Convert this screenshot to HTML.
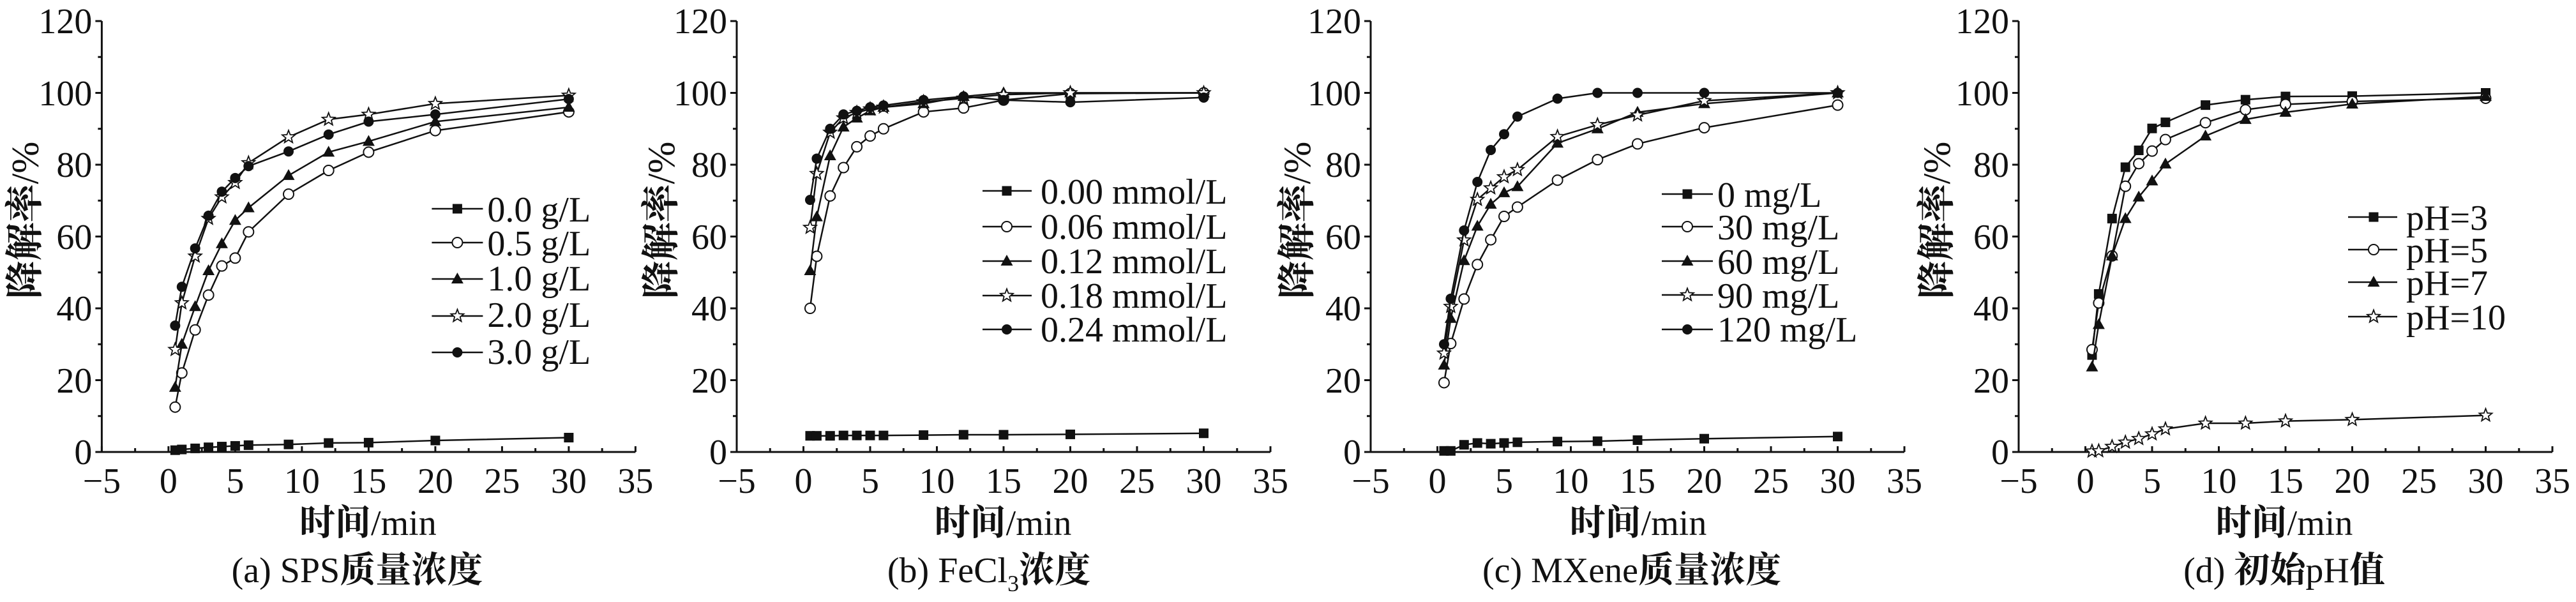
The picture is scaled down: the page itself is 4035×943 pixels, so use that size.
<!DOCTYPE html>
<html><head><meta charset="utf-8"><style>
html,body{margin:0;padding:0;background:#fff;}
svg{display:block;}
text{font-family:"Liberation Serif","Noto Serif CJK SC","Noto Sans CJK SC",serif;fill:#111;}
.cj{font-weight:bold;}
</style></head><body>
<svg id="s" width="4035" height="943" viewBox="0 0 4035 943" xmlns="http://www.w3.org/2000/svg">
<defs>
<g id="axes" stroke="#111" stroke-width="3" fill="none">
<path d="M0,33 V708 H836"/>
</g>
</defs>

<g id="pa" transform="translate(159.4,0)">
<use href="#axes"/>
<g font-size="56" text-anchor="end">
<text x="-15" y="727">0</text><text x="-15" y="615">20</text><text x="-15" y="502">40</text><text x="-15" y="390">60</text><text x="-15" y="277">80</text><text x="-15" y="165">100</text><text x="-15" y="52">120</text></g>
<g font-size="56" text-anchor="middle">
<text x="0" y="772">−5</text><text x="104.5" y="772">0</text><text x="209" y="772">5</text><text x="313.5" y="772">10</text><text x="418" y="772">15</text><text x="522.5" y="772">20</text><text x="627" y="772">25</text><text x="731.5" y="772">30</text><text x="836" y="772">35</text>
<text x="417" y="838"><tspan class="cj">时间</tspan>/min</text>
<text x="400" y="912">(a) SPS<tspan class="cj">质量浓度</tspan></text>
<text transform="translate(-100,345) rotate(-90)" font-size="60"><tspan class="cj">降解率</tspan>/%</text>
</g>
<g font-size="56"><text x="604" y="347">0.0 g/L</text><text x="604" y="400">0.5 g/L</text><text x="604" y="455">1.0 g/L</text><text x="604" y="512">2.0 g/L</text><text x="604" y="570">3.0 g/L</text></g>
</g>

<g id="pb" transform="translate(1154,0)">
<use href="#axes"/>
<g font-size="56" text-anchor="end">
<text x="-15" y="727">0</text><text x="-15" y="615">20</text><text x="-15" y="502">40</text><text x="-15" y="390">60</text><text x="-15" y="277">80</text><text x="-15" y="165">100</text><text x="-15" y="52">120</text></g>
<g font-size="56" text-anchor="middle">
<text x="0" y="772">−5</text><text x="104.5" y="772">0</text><text x="209" y="772">5</text><text x="313.5" y="772">10</text><text x="418" y="772">15</text><text x="522.5" y="772">20</text><text x="627" y="772">25</text><text x="731.5" y="772">30</text><text x="836" y="772">35</text>
<text x="417" y="838"><tspan class="cj">时间</tspan>/min</text>
<text x="395" y="912">(b) FeCl<tspan font-size="36" dy="14">3</tspan><tspan dy="-14" class="cj">浓度</tspan></text>
<text transform="translate(-98,345) rotate(-90)" font-size="60"><tspan class="cj">降解率</tspan>/%</text>
</g>
<g font-size="56"><text x="476" y="319">0.00 mmol/L</text><text x="476" y="374">0.06 mmol/L</text><text x="476" y="428">0.12 mmol/L</text><text x="476" y="482">0.18 mmol/L</text><text x="476" y="535">0.24 mmol/L</text></g>
</g>

<g id="pc" transform="translate(2147,0)">
<use href="#axes"/>
<g font-size="56" text-anchor="end">
<text x="-15" y="727">0</text><text x="-15" y="615">20</text><text x="-15" y="502">40</text><text x="-15" y="390">60</text><text x="-15" y="277">80</text><text x="-15" y="165">100</text><text x="-15" y="52">120</text></g>
<g font-size="56" text-anchor="middle">
<text x="0" y="772">−5</text><text x="104.5" y="772">0</text><text x="209" y="772">5</text><text x="313.5" y="772">10</text><text x="418" y="772">15</text><text x="522.5" y="772">20</text><text x="627" y="772">25</text><text x="731.5" y="772">30</text><text x="836" y="772">35</text>
<text x="419" y="838"><tspan class="cj">时间</tspan>/min</text>
<text x="409" y="912">(c) MXene<tspan class="cj">质量浓度</tspan></text>
<text transform="translate(-95,345) rotate(-90)" font-size="60"><tspan class="cj">降解率</tspan>/%</text>
</g>
<g font-size="56"><text x="543" y="324">0 mg/L</text><text x="543" y="375">30 mg/L</text><text x="543" y="429">60 mg/L</text><text x="543" y="482">90 mg/L</text><text x="543" y="535">120 mg/L</text></g>
</g>

<g id="pd" transform="translate(3162,0)">
<use href="#axes"/>
<g font-size="56" text-anchor="end">
<text x="-15" y="727">0</text><text x="-15" y="615">20</text><text x="-15" y="502">40</text><text x="-15" y="390">60</text><text x="-15" y="277">80</text><text x="-15" y="165">100</text><text x="-15" y="52">120</text></g>
<g font-size="56" text-anchor="middle">
<text x="0" y="772">−5</text><text x="104.5" y="772">0</text><text x="209" y="772">5</text><text x="313.5" y="772">10</text><text x="418" y="772">15</text><text x="522.5" y="772">20</text><text x="627" y="772">25</text><text x="731.5" y="772">30</text><text x="836" y="772">35</text>
<text x="416" y="838"><tspan class="cj">时间</tspan>/min</text>
<text x="416" y="912">(d) <tspan class="cj">初始</tspan>pH<tspan class="cj">值</tspan></text>
<text transform="translate(-108,345) rotate(-90)" font-size="60"><tspan class="cj">降解率</tspan>/%</text>
</g>
<g font-size="56"><text x="607" y="360">pH=3</text><text x="607" y="411">pH=5</text><text x="607" y="462">pH=7</text><text x="607" y="516">pH=10</text></g>
</g>
</svg>
<script>
(function(){
var NS="http://www.w3.org/2000/svg";
var T=[0.5,1,2,3,4,5,6,9,12,15,20,30];
function X(t){return (t+5)*20.9;}
function Y(v){return 708-v*5.625;}
function el(n,a,p){var e=document.createElementNS(NS,n);for(var k in a)e.setAttribute(k,a[k]);p.appendChild(e);return e;}
function marker(g,type,x,y){
 if(type=='sq')el('rect',{x:x-7.5,y:y-7.5,width:15,height:15,fill:'#111'},g);
 else if(type=='oc')el('circle',{cx:x,cy:y,r:8,fill:'#fff',stroke:'#111','stroke-width':2},g);
 else if(type=='tr')el('path',{d:'M'+x+','+(y-10)+'L'+(x+9.5)+','+(y+7)+'L'+(x-9.5)+','+(y+7)+'Z',fill:'#111'},g);
 else if(type=='fc')el('circle',{cx:x,cy:y,r:8,fill:'#111'},g);
 else if(type=='st'){var d='';for(var i=0;i<10;i++){var r=i%2?4.5:10.5,a=-Math.PI/2+i*Math.PI/5;d+=(i?'L':'M')+(x+r*Math.cos(a)).toFixed(1)+','+(y+r*Math.sin(a)).toFixed(1);}el('path',{d:d+'Z',fill:'#fff',stroke:'#111','stroke-width':1.8},g);}
}
function ticks(g){
 var d='';
 for(var v=0;v<=120;v+=10){var y=Y(v);d+='M0,'+y+'H'+(v%20?-6:-10);}
 for(var t=-5;t<=35;t+=2.5){var x=X(t);d+='M'+x+',708V'+(t%5?702:699);}
 el('path',{d:d,stroke:'#111','stroke-width':3,fill:'none'},g);
}
var P={
pa:{leg:[517,557,597,[327,380,437,495,552]],s:[
['sq',[0.5,0.7,1,1.3,1.5,1.7,1.9,2.1,2.5,2.6,3.2,4]],
['oc',[12.5,22,34,43.7,51.8,54,61.3,71.8,78.4,83.5,89.5,94.7]],
['tr',[18,30,40.5,50.5,58,64.5,68,77,83.5,86.5,92,96]],
['st',[28.5,41.5,54.5,65,71,75,80.5,87.7,92.6,94,97,99.3]],
['fc',[35.2,46,56.7,65.8,72.5,76.3,79.6,83.7,88.4,92,94,98.3]]]},
pb:{leg:[385,423,462,[299,355,409,463,516]],s:[
['sq',[4.5,4.5,4.5,4.6,4.6,4.6,4.6,4.7,4.8,4.8,4.9,5.2]],
['oc',[40,54.5,71.3,79.2,85,88,90,94.7,95.8,98,99.8,100]],
['tr',[50.5,65.5,82.5,90.5,93,95,96,97,99,100,100,100]],
['st',[62.5,77.5,89,93,94.5,95.5,96,97.5,98.5,99.5,100,100]],
['fc',[70.2,81.7,90,94,95,96,96.5,98,99,98,97.4,98.7]]]},
pc:{leg:[456,496,536,[304,355,409,462,516]],s:[
['sq',[0.3,0.3,2,2.5,2.3,2.5,2.7,2.9,3,3.3,3.7,4.3]],
['oc',[19.3,30.2,42.6,52.2,59.1,65.6,68.2,75.7,81.4,85.8,90.3,96.6]],
['tr',[24.2,37.2,53.3,62.9,69,72.2,73.9,86,90,94.6,97,100]],
['st',[27.5,40.5,59,70.3,73.5,76.6,78.6,87.8,91.1,93.8,97.8,100]],
['fc',[30,42.7,61.7,75.2,84.1,88.5,93.4,98.4,100,100,100,100]]]},
pd:{leg:[516,556,593,[340,391,442,496]],s:[
['sq',[27,44,65,79.3,84,90.1,91.8,96.6,98.1,99,99.1,100]],
['oc',[28.5,41.5,54.6,74,80.3,83.8,87,91.7,95.3,96.8,97.6,98.5]],
['tr',[23.7,35.5,54.6,65,71,75.5,80.2,88,92.6,94.6,96.9,99]],
['st',[0.2,0.3,1.5,2.7,3.7,5,6.4,8,8,8.6,9,10.2]]]}
};
for(var id in P){
 var g=document.getElementById(id),p=P[id];
 ticks(g);
 p.s.forEach(function(s,i){
  var d='';T.forEach(function(t,j){d+=(j?'L':'M')+X(t).toFixed(1)+','+Y(s[1][j]).toFixed(1);});
  el('path',{d:d,stroke:'#111','stroke-width':2.5,fill:'none'},g);
  T.forEach(function(t,j){marker(g,s[0],X(t),Y(s[1][j]));});
  var ly=p.leg[3][i];
  el('path',{d:'M'+p.leg[0]+','+ly+'H'+p.leg[2],stroke:'#111','stroke-width':2.5},g);
  marker(g,s[0],p.leg[1],ly);
 });
}
})();
</script>
</body></html>
